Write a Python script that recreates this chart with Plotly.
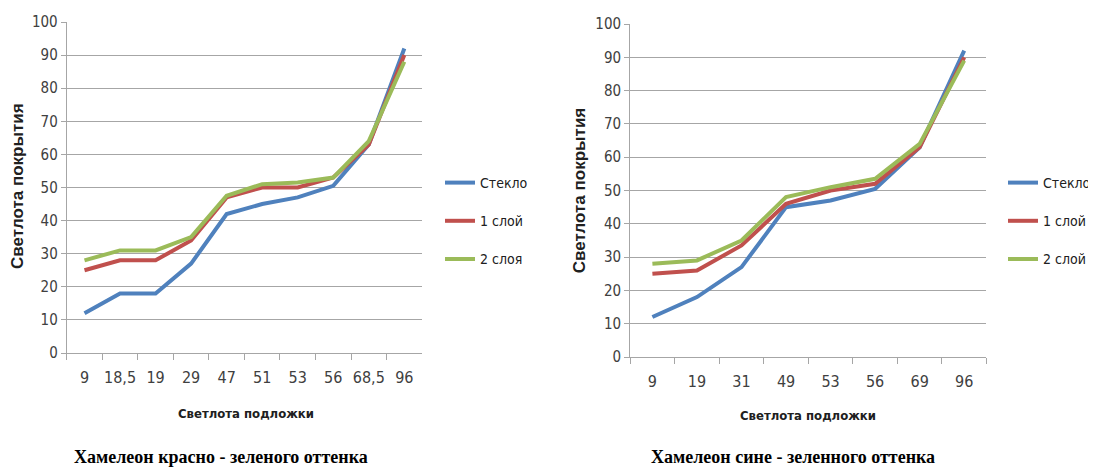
import plotly.graph_objects as go

# Left chart: Хамелеон красно - зеленого оттенка
cats_left = ["9", "18,5", "19", "29", "47", "51", "53", "56", "68,5", "96"]
left_glass = [12, 18, 18, 27, 42, 45, 47, 50.5, 63, 92]
left_layer1 = [25, 28, 28, 34, 47, 50, 50, 53, 63, 90]
left_layer2 = [28, 31, 31, 35, 47.5, 51, 51.5, 53, 64, 88]

# Right chart: Хамелеон сине - зеленого оттенка
cats_right = ["9", "19", "31", "49", "53", "56", "69", "96"]
right_glass = [12, 18, 27, 45, 47, 50.5, 63, 92]
right_layer1 = [25, 26, 33.5, 46, 50, 52, 63, 90]
right_layer2 = [28, 29, 35, 48, 51, 53.5, 64, 89]

names_left = ["Стекло", "1 слой", "2 слоя"]
names_right = ["Стекло", "1 слой", "2 слой"]
colors = ["#4F81BD", "#C0504D", "#9BBB59"]

# page body has an 8px default margin: figure is sized so that it fills the window
W, H, OFF = 1088, 460, 8


def px(x):
    return (x - OFF) / W


def py(y):
    return 1 - (y - OFF) / H


fig = go.Figure()
for i, (name, vals) in enumerate(zip(names_left, [left_glass, left_layer1, left_layer2])):
    fig.add_trace(go.Scatter(x=cats_left, y=vals, mode="lines", name=name,
                             line=dict(color=colors[i], width=4),
                             xaxis="x", yaxis="y", legend="legend",
                             legendgroup="l" + str(i)))
for i, (name, vals) in enumerate(zip(names_right, [right_glass, right_layer1, right_layer2])):
    fig.add_trace(go.Scatter(x=cats_right, y=vals, mode="lines", name=name,
                             line=dict(color=colors[i], width=4),
                             xaxis="x2", yaxis="y2", legend="legend2",
                             legendgroup="r" + str(i)))

narrow = "DejaVu Sans Condensed, Liberation Sans Narrow, Arial Narrow, sans-serif"
tickfont = dict(family=narrow, size=15, color="#404040")
xtickfont = dict(family=narrow, size=16, color="#404040")
grid = "#A6A6A6"
common_x = dict(type="category", showgrid=False, showline=True, linecolor=grid, linewidth=1,
                ticks="outside", ticklen=6, tickcolor=grid, tickson="boundaries",
                tickfont=xtickfont, tickangle=0, ticklabelstandoff=10,
                zeroline=False, fixedrange=True, automargin=False)
common_y = dict(range=[0, 100], dtick=10, showgrid=True, gridcolor=grid, gridwidth=1,
                showline=True, linecolor=grid, linewidth=1, ticks="outside", ticklen=5,
                tickcolor=grid, tickfont=tickfont, zeroline=False, automargin=False)

legfont = dict(family=narrow, size=14, color="#202020")
fig.update_layout(
    width=W, height=H,
    margin=dict(l=0, r=0, t=0, b=0),
    paper_bgcolor="white", plot_bgcolor="white",
    xaxis=dict(domain=[px(67), px(424)], anchor="y", range=[-0.5, len(cats_left) - 0.5], **common_x),
    yaxis=dict(domain=[py(353), py(22)], anchor="x", **common_y),
    xaxis2=dict(domain=[px(633), px(991)], anchor="y2", range=[-0.5, len(cats_right) - 0.5], **common_x),
    yaxis2=dict(domain=[py(357), py(24)], anchor="x2", **common_y),
    legend=dict(x=px(442), y=py(167), xanchor="left", yanchor="top", font=legfont,
                tracegroupgap=17, traceorder="grouped", bgcolor="rgba(0,0,0,0)",
                itemwidth=30),
    legend2=dict(x=px(1008), y=py(167), xanchor="left", yanchor="top", font=legfont,
                 tracegroupgap=17, traceorder="grouped", bgcolor="rgba(0,0,0,0)",
                 itemwidth=30),
    showlegend=True,
)

ytitle_font = dict(family="Liberation Sans, Arial, sans-serif", size=17, color="#202020")
xtitle_font = dict(family=narrow, size=13, color="#202020")
bottom_font = dict(family="Liberation Serif, Times New Roman, serif", size=18, color="#000000")

annotations = [
    dict(text="<b>Светлота покрытия</b>", x=px(17), y=py(186), textangle=-90, font=ytitle_font),
    dict(text="<b>Светлота покрытия</b>", x=px(583), y=py(190), textangle=-90, font=ytitle_font),
    dict(text="<b>Светлота подложки</b>", x=px(247), y=py(413), font=xtitle_font),
    dict(text="<b>Светлота подложки</b>", x=px(812), y=py(415), font=xtitle_font),
    dict(text="<b>Хамелеон красно - зеленого оттенка</b>", x=px(222), y=py(457), font=bottom_font),
    dict(text="<b>Хамелеон сине - зеленного оттенка</b>", x=px(797), y=py(457), font=bottom_font),
]
for a in annotations:
    a.update(xref="paper", yref="paper", showarrow=False, xanchor="center", yanchor="middle")
fig.update_layout(annotations=annotations)

fig.write_html("out.html")
